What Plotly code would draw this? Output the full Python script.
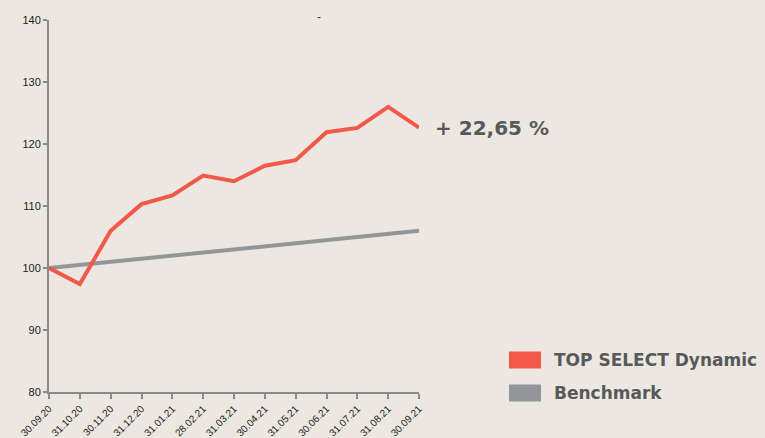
import plotly.graph_objects as go

dates = ["30.09.20", "31.10.20", "30.11.20", "31.12.20", "31.01.21", "28.02.21",
         "31.03.21", "30.04.21", "31.05.21", "30.06.21", "31.07.21", "31.08.21", "30.09.21"]
top_select = [100.0, 97.4, 106.0, 110.3, 111.7, 114.9, 114.0, 116.5, 117.4, 121.9, 122.6, 126.0, 122.65]
benchmark = [100.0, 100.5, 101.0, 101.5, 102.0, 102.5, 103.0, 103.5, 104.0, 104.5, 105.0, 105.5, 106.0]
series_names = ["TOP SELECT Dynamic", "Benchmark"]
perf_label = "+ 22,65 %"
y_ticks = [80, 90, 100, 110, 120, 130, 140]

RED = "#F2594B"
GREY = "#939598"
TEXT = "#58595B"
BG = "#ECE8E1"

fig = go.Figure()
fig.add_trace(go.Scatter(x=dates, y=benchmark, mode="lines", name=series_names[1],
                         line=dict(color=GREY, width=4), showlegend=False))
fig.add_trace(go.Scatter(x=dates, y=top_select, mode="lines", name=series_names[0],
                         line=dict(color=RED, width=4), showlegend=False))

fig.add_annotation(x=dates[-1], y=top_select[-1], xref="x", yref="y", text="<b>%s</b>" % perf_label,
                   showarrow=False, xanchor="left", yanchor="middle", xshift=14,
                   font=dict(family="DejaVu Sans", size=20, color=TEXT))

fig.add_annotation(x=(323 - 49) / 370, y=1.0, xref="paper", yref="paper", text="-", showarrow=False,
                   yanchor="middle", yshift=3, font=dict(family="Liberation Sans", size=12, color="#333"))

# custom legend
legend_items = [(series_names[0], RED, 360), (series_names[1], GREY, 393)]
for name, col, ypx in legend_items:
    y0 = 1 - (ypx - 20 + 8.5) / 372
    y1 = 1 - (ypx - 20 - 8.5) / 372
    fig.add_shape(type="rect", xref="paper", yref="paper",
                  x0=(509 - 49) / 370, x1=(541 - 49) / 370, y0=y0, y1=y1,
                  fillcolor=col, line=dict(width=0))
    fig.add_annotation(x=(552 - 49) / 370, y=1 - (ypx - 20) / 372, xref="paper", yref="paper",
                       text="<b>%s</b>" % name, showarrow=False, xanchor="left", yanchor="middle",
                       font=dict(family="DejaVu Sans", size=17, color=TEXT))

fig.update_layout(
    width=765, height=438,
    margin=dict(l=49, r=346, t=20, b=46),
    paper_bgcolor=BG, plot_bgcolor=BG,
    showlegend=False,
)
fig.update_xaxes(type="category", range=[0, 12], showgrid=False, zeroline=False, automargin=False,
                 showline=True, linecolor="#8A8A8A", linewidth=2,
                 ticks="outside", ticklen=5, tickwidth=2, tickcolor="#8A8A8A",
                 tickangle=-45, tickfont=dict(family="Liberation Sans", size=10, color="#222"))
fig.update_yaxes(range=[80, 140], tickvals=y_ticks, showgrid=False, zeroline=False, automargin=False,
                 showline=True, linecolor="#8A8A8A", linewidth=2,
                 ticks="outside", ticklen=4, tickwidth=2, tickcolor="#8A8A8A",
                 tickfont=dict(family="Liberation Sans", size=11, color="#222"))

fig.write_html("out.html", config={"displayModeBar": False},
               post_script="document.body.style.margin='0';document.body.style.background='%s';" % BG)
